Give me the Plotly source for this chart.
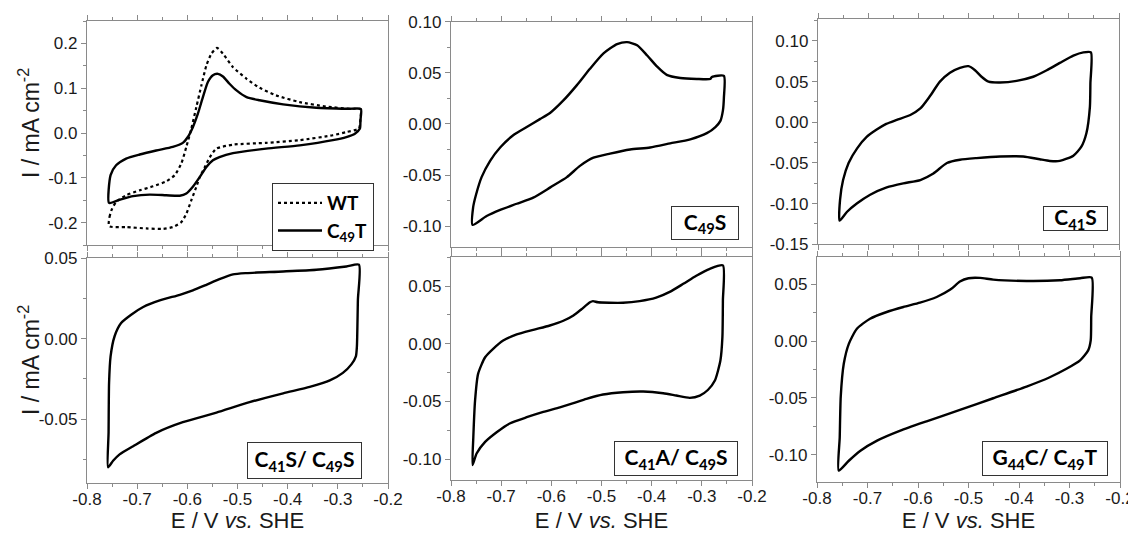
import plotly.graph_objects as go

# ---------------- data (E in V vs SHE, I in mA cm^-2) ----------------
A_WT_E = [-0.756, -0.755, -0.750, -0.742, -0.722, -0.695, -0.668, -0.642, -0.625, -0.612, -0.602, -0.592,
          -0.582, -0.572, -0.562, -0.552, -0.541, -0.529, -0.509, -0.482, -0.456, -0.423, -0.376, -0.323,
          -0.276, -0.255, -0.255, -0.258, -0.283, -0.310, -0.376, -0.443, -0.509, -0.542, -0.555, -0.565,
          -0.575, -0.582, -0.592, -0.602, -0.612, -0.629, -0.648, -0.682, -0.722, -0.756]
A_WT_I = [-0.208, -0.187, -0.169, -0.154, -0.139, -0.128, -0.119, -0.108, -0.094, -0.068, -0.031, 0.010,
          0.058, 0.106, 0.151, 0.177, 0.190, 0.177, 0.147, 0.121, 0.101, 0.084, 0.069, 0.059,
          0.054, 0.053, 0.028, 0.010, 0.002, -0.005, -0.016, -0.022, -0.026, -0.035, -0.054, -0.076,
          -0.098, -0.120, -0.150, -0.180, -0.199, -0.210, -0.214, -0.213, -0.210, -0.208]

A_C49T_E = [-0.756, -0.753, -0.742, -0.722, -0.695, -0.662, -0.629, -0.609, -0.599, -0.589, -0.579, -0.569,
            -0.559, -0.549, -0.539, -0.529, -0.516, -0.502, -0.482, -0.456, -0.409, -0.343, -0.276, -0.254,
            -0.255, -0.256, -0.266, -0.283, -0.310, -0.376, -0.443, -0.509, -0.536, -0.549, -0.562, -0.575,
            -0.589, -0.602, -0.615, -0.642, -0.675, -0.708, -0.735, -0.756]
A_C49T_I = [-0.156, -0.094, -0.072, -0.057, -0.048, -0.039, -0.031, -0.022, -0.009, 0.013, 0.043, 0.080,
            0.114, 0.129, 0.132, 0.126, 0.110, 0.095, 0.080, 0.073, 0.064, 0.0565, 0.054, 0.0535,
            0.028, 0.010, -0.0015, -0.009, -0.016, -0.0275, -0.035, -0.045, -0.054, -0.061, -0.076, -0.098,
            -0.120, -0.135, -0.140, -0.139, -0.1375, -0.141, -0.149, -0.156]

B_E = [-0.757, -0.756, -0.750, -0.739, -0.722, -0.702, -0.676, -0.649, -0.622, -0.602, -0.576, -0.549,
       -0.523, -0.496, -0.469, -0.449, -0.429, -0.409, -0.389, -0.370, -0.343, -0.310, -0.283, -0.280,
       -0.256, -0.256, -0.258, -0.263, -0.273, -0.290, -0.323, -0.363, -0.403, -0.443, -0.483, -0.516,
       -0.543, -0.569, -0.602, -0.636, -0.669, -0.702, -0.729, -0.757]
B_I = [-0.0987, -0.082, -0.069, -0.052, -0.036, -0.023, -0.011, -0.003, 0.005, 0.011, 0.023, 0.038,
       0.054, 0.069, 0.078, 0.080, 0.077, 0.067, 0.056, 0.048, 0.045, 0.044, 0.044, 0.046,
       0.047, 0.026, 0.013, 0.003, -0.003, -0.009, -0.015, -0.019, -0.023, -0.025, -0.029, -0.033,
       -0.041, -0.052, -0.062, -0.072, -0.078, -0.084, -0.090, -0.0987]

C_E = [-0.757, -0.756, -0.750, -0.739, -0.722, -0.703, -0.683, -0.664, -0.643, -0.616, -0.596, -0.577,
       -0.557, -0.537, -0.517, -0.500, -0.487, -0.474, -0.460, -0.437, -0.404, -0.371, -0.344, -0.318,
       -0.291, -0.271, -0.256, -0.257, -0.258, -0.265, -0.275, -0.291, -0.318, -0.338, -0.358, -0.391,
       -0.437, -0.484, -0.517, -0.543, -0.570, -0.596, -0.630, -0.663, -0.696, -0.722, -0.742, -0.757]
C_I = [-0.121, -0.095, -0.071, -0.050, -0.032, -0.018, -0.009, -0.002, 0.003, 0.009, 0.017, 0.032,
       0.050, 0.061, 0.067, 0.069, 0.064, 0.056, 0.050, 0.049, 0.051, 0.056, 0.064, 0.073,
       0.082, 0.086, 0.086, 0.048, 0.019, -0.0135, -0.030, -0.041, -0.0475, -0.0475, -0.0455, -0.042,
       -0.042, -0.044, -0.046, -0.050, -0.063, -0.071, -0.075, -0.080, -0.089, -0.0996, -0.110, -0.121]

D_E = [-0.758, -0.757, -0.756, -0.753, -0.745, -0.732, -0.712, -0.688, -0.655, -0.615, -0.589, -0.562,
       -0.536, -0.509, -0.482, -0.409, -0.343, -0.283, -0.258, -0.260, -0.262, -0.264, -0.273, -0.290,
       -0.316, -0.356, -0.409, -0.476, -0.542, -0.609, -0.662, -0.708, -0.735, -0.748, -0.758]
D_I = [-0.080, -0.0586, -0.0275, -0.011, 0.0015, 0.0097, 0.0149, 0.0197, 0.0238, 0.0273, 0.030, 0.0335,
       0.037, 0.040, 0.0408, 0.0418, 0.0429, 0.0449, 0.046, 0.0242, -0.0048, -0.011, -0.016, -0.0213,
       -0.026, -0.030, -0.034, -0.0395, -0.046, -0.052, -0.0586, -0.0669, -0.072, -0.076, -0.080]

E_E = [-0.757, -0.7555, -0.752, -0.746, -0.732, -0.716, -0.696, -0.669, -0.636, -0.603, -0.576, -0.556,
       -0.540, -0.523, -0.517, -0.507, -0.484, -0.457, -0.424, -0.391, -0.364, -0.337, -0.311, -0.284,
       -0.258, -0.258, -0.259, -0.263, -0.274, -0.288, -0.304, -0.324, -0.351, -0.377, -0.417, -0.457,
       -0.497, -0.530, -0.556, -0.583, -0.616, -0.649, -0.683, -0.709, -0.732, -0.749, -0.757]
E_I = [-0.105, -0.081, -0.049, -0.026, -0.0116, -0.0043, 0.0029, 0.0081, 0.0121, 0.0159, 0.020, 0.0246,
       0.030, 0.036, 0.037, 0.036, 0.0356, 0.0356, 0.037, 0.040, 0.045, 0.052, 0.059, 0.065,
       0.068, 0.0376, 0.0058, -0.0145, -0.0318, -0.040, -0.0448, -0.0468, -0.0448, -0.0428, -0.0413, -0.0419,
       -0.0439, -0.0477, -0.0514, -0.055, -0.059, -0.0636, -0.069, -0.0766, -0.085, -0.095, -0.105]

F_E = [-0.757, -0.755, -0.753, -0.747, -0.737, -0.721, -0.695, -0.662, -0.629, -0.596, -0.563, -0.536,
       -0.517, -0.500, -0.477, -0.451, -0.385, -0.319, -0.279, -0.256, -0.257, -0.258, -0.263, -0.279,
       -0.306, -0.339, -0.385, -0.451, -0.517, -0.583, -0.635, -0.681, -0.714, -0.737, -0.757]
F_I = [-0.114, -0.0847, -0.049, -0.020, -0.0024, 0.0109, 0.0197, 0.0256, 0.030, 0.0338, 0.0388, 0.0453,
       0.0524, 0.0553, 0.0556, 0.0541, 0.0529, 0.0535, 0.0553, 0.0559, 0.0212, 0.0006, -0.0082, -0.017,
       -0.0244, -0.0318, -0.040, -0.0503, -0.0606, -0.0706, -0.0788, -0.0876, -0.0965, -0.1053, -0.114]

X_TICKS = [-0.8, -0.7, -0.6, -0.5, -0.4, -0.3, -0.2]
X_TICKTEXT = ["-0.8", "-0.7", "-0.6", "-0.5", "-0.4", "-0.3", "-0.2"]
YA_TICKS = [0.2, 0.1, 0.0, -0.1, -0.2]
YA_TEXT = ["0.2", "0.1", "0.0", "-0.1", "-0.2"]
YB_TICKS = [0.10, 0.05, 0.0, -0.05, -0.10]
YB_TEXT = ["0.10", "0.05", "0.00", "-0.05", "-0.10"]
YC_TICKS = [0.10, 0.05, 0.0, -0.05, -0.10, -0.15]
YC_TEXT = ["0.10", "0.05", "0.00", "-0.05", "-0.10", "-0.15"]
YD_TICKS = [0.05, 0.0, -0.05]
YD_TEXT = ["0.05", "0.00", "-0.05"]

PANEL_LABELS = ["C<sub>49</sub>S", "C<sub>41</sub>S", "C<sub>41</sub>S/ C<sub>49</sub>S",
                "C<sub>41</sub>A/ C<sub>49</sub>S", "G<sub>44</sub>C/ C<sub>49</sub>T"]
Y_TITLE = "I / mA cm<sup>-2</sup>"
X_TITLE = "E / V <i>vs.</i> SHE"

# ---------------- styling ----------------
OFF = 8                      # page body margin
W, H = 1136 - OFF, 533 - OFF
FONT = "Liberation Sans, Arial, sans-serif"
LFONT = "Lato, Carlito, Calibri, sans-serif"
AXC = "#8a8a8a"
TXT = "#1a1a1a"

def px_x(a, b):
    return [(a - OFF) / W, (b - OFF) / W]

def px_y(top, bottom):
    return [1 - (bottom - OFF) / H, 1 - (top - OFF) / H]

def pt(cx, cy):
    return (cx - OFF) / W, 1 - (cy - OFF) / H

# panel geometry (page pixels) and y ranges
panels = [
    dict(x=(87, 388), y=(21, 245), yr=[-0.25, 0.25], yt=YA_TICKS, ytt=YA_TEXT, ydm=0.05, bottom=False),
    dict(x=(451, 752), y=(21.7, 246.7), yr=[-0.12, 0.10], yt=YB_TICKS, ytt=YB_TEXT, ydm=0.025, bottom=False),
    dict(x=(818, 1119), y=(19, 244.3), yr=[-0.15, 0.127], yt=YC_TICKS, ytt=YC_TEXT, ydm=0.025, bottom=False),
    dict(x=(87, 388), y=(258.3, 483.3), yr=[-0.09, 0.05], yt=YD_TICKS, ytt=YD_TEXT, ydm=0.025, bottom=True),
    dict(x=(451, 752), y=(257.3, 480), yr=[-0.118, 0.075], yt=YB_TICKS, ytt=YB_TEXT, ydm=0.025, bottom=True),
    dict(x=(817, 1120), y=(257, 482), yr=[-0.124, 0.074], yt=YB_TICKS, ytt=YB_TEXT, ydm=0.025, bottom=True),
]

fig = go.Figure()

line_solid = dict(color="black", width=2.4, shape="spline", smoothing=0.6)

fig.add_trace(go.Scatter(x=A_WT_E, y=A_WT_I, mode="lines", name="WT",
                         line=dict(color="black", width=2.2, dash="dot", shape="spline", smoothing=0.6),
                         xaxis="x", yaxis="y"))
fig.add_trace(go.Scatter(x=A_C49T_E, y=A_C49T_I, mode="lines", name="C<sub>49</sub>T",
                         line=line_solid, xaxis="x", yaxis="y"))

series = [(B_E, B_I), (C_E, C_I), (D_E, D_I), (E_E, E_I), (F_E, F_I)]
for k, (ex, iy) in enumerate(series, start=2):
    fig.add_trace(go.Scatter(x=ex, y=iy, mode="lines", showlegend=False, line=line_solid,
                             xaxis=f"x{k}", yaxis=f"y{k}"))

layout = dict(width=W, height=H, margin=dict(l=0, r=0, t=0, b=0),
              paper_bgcolor="white", plot_bgcolor="white", showlegend=True)

for i, p in enumerate(panels, start=1):
    sfx = "" if i == 1 else str(i)
    xa = dict(domain=px_x(*p["x"]), anchor=f"y{sfx}", range=[-0.8, -0.2],
              tickmode="array", tickvals=X_TICKS, ticktext=X_TICKTEXT,
              showticklabels=p["bottom"], ticks="outside", ticklen=5, tickwidth=1, tickcolor=AXC,
              showline=True, linecolor=AXC, linewidth=1.3, mirror="ticks",
              showgrid=False, zeroline=False, automargin=False, ticklabelstandoff=-5,
              ticklabeloverflow="allow",
              minor=dict(ticks="outside", ticklen=3, tickwidth=1, tickcolor=AXC, dtick=0.05, tick0=-0.8, showgrid=False),
              tickfont=dict(family=FONT, size=17, color=TXT))
    if p["bottom"]:
        xa["title"] = dict(text=X_TITLE, font=dict(family=FONT, size=22, color=TXT), standoff=9)
    ya = dict(domain=px_y(*p["y"]), anchor=f"x{sfx}", range=p["yr"],
              tickmode="array", tickvals=p["yt"], ticktext=p["ytt"],
              ticks="outside", ticklen=5, tickwidth=1, tickcolor=AXC,
              showline=True, linecolor=AXC, linewidth=1.3, mirror=True,
              showgrid=False, zeroline=False, automargin=False,
              minor=dict(ticks="outside", ticklen=3, tickwidth=1, tickcolor=AXC, dtick=p["ydm"], tick0=0, showgrid=False),
              tickfont=dict(family=FONT, size=17, color=TXT))
    layout[f"xaxis{sfx}"] = xa
    layout[f"yaxis{sfx}"] = ya

lx, ly = pt(272, 183)
layout["legend"] = dict(x=lx, y=ly, xanchor="left", yanchor="top",
                        bordercolor="#333333", borderwidth=1, bgcolor="white",
                        font=dict(family=LFONT, size=19, color="black", weight="bold"),
                        itemwidth=44, tracegroupgap=0)

anns = []
# y-axis titles of the left column (rotated text)
for cy in (123, 360):
    tx, ty = pt(29, cy)
    anns.append(dict(text=Y_TITLE, xref="paper", yref="paper", x=tx, y=ty, textangle=-90,
                     xanchor="center", yanchor="middle", showarrow=False,
                     font=dict(family=FONT, size=23, color=TXT)))

# labelled boxes (center x, center y, width, height) in page pixels
boxes = [(705, 223, 68, 34), (1075.5, 218.4, 65, 25), (304.5, 460.7, 115, 37),
         (676, 458.5, 124, 35), (1045, 458.5, 126, 35)]
for txt, (cx, cy, bw, bh) in zip(PANEL_LABELS, boxes):
    ax_, ay_ = pt(cx, cy)
    anns.append(dict(text=f"<b>{txt}</b>", xref="paper", yref="paper", x=ax_, y=ay_,
                     xanchor="center", yanchor="middle", showarrow=False, width=bw - 2, height=bh - 2,
                     bordercolor="#333333", borderwidth=1, borderpad=0, bgcolor="white",
                     font=dict(family=LFONT, size=21, color="black")))
layout["annotations"] = anns

fig.update_layout(**layout)
fig.write_html("out.html")
